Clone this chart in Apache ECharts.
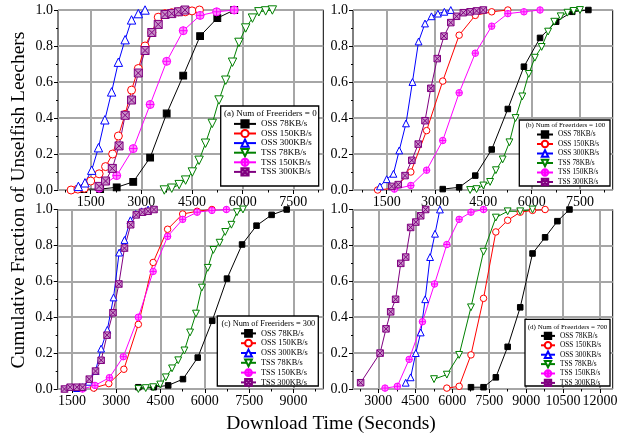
<!DOCTYPE html>
<html><head><meta charset="utf-8">
<script src="https://cdn.jsdelivr.net/npm/echarts@6/dist/echarts.min.js"></script>
<style>html,body{margin:0;padding:0;background:#fff}#c{width:628px;height:436px}</style>
</head><body><div id="c"></div>
<script>
// ---------- data ----------
const seriesNames = ['OSS 78KB/s','OSS 150KB/s','OSS 300KB/s','TSS 78KB/s','TSS 150KB/s','TSS 300KB/s'];
const panelTitles = ['(a) Num of Freeriders = 0','(b) Num of Freeriders = 100','(c) Num of Freeriders = 300','(d) Num of Freeriders = 700'];
const xTitle = 'Download Time (Seconds)';
const yTitle = 'Cumulative Fraction of Unselfish Leechers';

// panel (a)
const a_oss78  = [[1280,0.005],[1780,0.005],[2270,0.015],[2760,0.045],[3260,0.18],[3750,0.425],[4240,0.635],[4740,0.855],[5250,0.955],[5750,1.0]];
const a_oss150 = [[920,0],[1120,0.005],[1310,0.01],[1500,0.05],[1750,0.09],[1940,0.13],[2150,0.2],[2320,0.3],[2520,0.42],[2710,0.555],[2910,0.675],[3110,0.8],[3310,0.875],[3500,0.96],[3700,0.98],[3900,0.985],[4100,0.99],[4300,0.99],[4500,0.995],[4720,1.0]];
const a_oss300 = [[1135,0.02],[1330,0.04],[1530,0.11],[1730,0.235],[1920,0.39],[2120,0.545],[2320,0.71],[2520,0.835],[2710,0.945],[2910,0.98],[3110,1.0]];
const a_tss78  = [[3680,0],[3900,0.01],[4120,0.03],[4310,0.055],[4510,0.1],[4710,0.165],[4900,0.26],[5100,0.37],[5300,0.5],[5500,0.61],[5700,0.71],[5890,0.82],[6090,0.9],[6290,0.955],[6480,0.99],[6680,0.995],[6880,1.0]];
const a_tss150 = [[1750,0.01],[2270,0.08],[2760,0.23],[3260,0.475],[3750,0.715],[4240,0.885],[4740,0.97],[5230,0.99],[5750,1.0]];
const a_tss300 = [[1750,0.02],[1940,0.05],[2140,0.12],[2340,0.245],[2520,0.415],[2710,0.5],[2910,0.65],[3110,0.775],[3310,0.875],[3500,0.92],[3700,0.975],[3900,0.98],[4100,0.99],[4290,1.0]];

// panel (b)
const b_oss78  = [[3240,0.005],[3750,0.015],[4250,0.08],[4760,0.225],[5260,0.45],[5760,0.685],[6260,0.845],[6760,0.935],[7260,0.99],[7760,1.0]];
const b_oss150 = [[1220,0],[1740,0.01],[2250,0.1],[2740,0.33],[3240,0.605],[3750,0.86],[4250,0.97],[4760,0.99],[5260,1.0]];
const b_oss300 = [[1290,0.02],[1500,0.06],[1710,0.09],[1890,0.22],[2100,0.37],[2300,0.6],[2490,0.825],[2690,0.925],[2890,0.965],[3090,0.98],[3290,0.99],[3490,1.0]];
const b_tss78  = [[4090,0],[4290,0.005],[4500,0.025],[4710,0.045],[4890,0.11],[5100,0.17],[5310,0.265],[5500,0.4],[5710,0.52],[5910,0.645],[6100,0.735],[6310,0.795],[6510,0.88],[6700,0.935],[6900,0.965],[7110,0.985],[7300,0.995],[7500,1.0]];
const b_tss150 = [[1740,0.005],[2250,0.025],[2740,0.11],[3240,0.275],[3750,0.54],[4250,0.76],[4760,0.91],[5260,0.98],[5760,0.99],[6260,1.0]];
const b_tss300 = [[1660,0.02],[1860,0.03],[2070,0.08],[2280,0.165],[2480,0.255],[2690,0.385],[2870,0.565],[3070,0.73],[3280,0.855],[3490,0.93],[3670,0.965],[3880,0.985],[4090,0.99],[4290,0.995],[4500,1.0]];

// panel (c)
const c_oss78  = [[3750,0.01],[4270,0.01],[4760,0.02],[5260,0.055],[5760,0.175],[6250,0.38],[6750,0.615],[7260,0.805],[7750,0.91],[8260,0.97],[8770,1.0]];
const c_oss150 = [[2240,0.005],[2750,0.03],[3260,0.11],[3750,0.36],[4250,0.705],[4740,0.89],[5250,0.975],[5740,0.99],[6240,1.0]];
const c_oss300 = [[1670,0.005],[1860,0.01],[2070,0.04],[2300,0.1],[2490,0.225],[2700,0.33],[2910,0.51],[3100,0.76],[3280,0.83],[3480,0.94],[3660,0.975],[3860,0.99],[4080,1.0]];
const c_tss78  = [[3750,0],[4000,0.005],[4250,0.01],[4490,0.025],[4680,0.065],[4890,0.115],[5100,0.16],[5310,0.215],[5500,0.315],[5700,0.42],[5900,0.565],[6100,0.675],[6290,0.775],[6500,0.815],[6690,0.875],[6900,0.915],[7090,0.985],[7290,1.0]];
const c_tss150 = [[1860,0],[2280,0.02],[2770,0.063],[3240,0.18],[3750,0.4],[4250,0.655],[4740,0.85],[5250,0.945],[5740,0.985],[6240,0.995],[6730,1.0]];
const c_tss300 = [[1250,0],[1440,0.01],[1670,0.01],[1860,0.01],[2090,0.055],[2300,0.1],[2490,0.16],[2690,0.3],[2890,0.425],[3090,0.585],[3280,0.785],[3490,0.915],[3680,0.97],[3890,0.985],[4080,0.99],[4280,1.0]];

// panel (d)
const d_oss78  = [[6760,0.01],[7270,0.01],[7770,0.065],[8250,0.235],[8760,0.455],[9260,0.755],[9770,0.845],[10270,0.935],[10760,1.0]];
const d_oss150 = [[5780,0.005],[6280,0.015],[6760,0.19],[7270,0.505],[7770,0.875],[8250,0.94],[8760,0.985],[9260,0.995],[9770,1.0]];
const d_oss300 = [[4110,0.035],[4310,0.065],[4520,0.2],[4720,0.315],[4900,0.5],[5100,0.735],[5300,0.865],[5500,1.0]];
const d_tss78  = [[5260,0.055],[5780,0.08],[6280,0.19],[6760,0.455],[7270,0.765],[7770,0.955],[8250,0.99],[8760,0.99],[9260,1.0]];
const d_tss150 = [[3270,0.005],[3770,0.015],[4250,0.165],[4790,0.375],[5280,0.585],[5780,0.805],[6280,0.945],[6760,0.985],[7270,1.0]];
const d_tss300 = [[2280,0.035],[3070,0.2],[3310,0.335],[3500,0.43],[3700,0.5],[3910,0.7],[4110,0.735],[4310,0.9],[4520,0.93],[4720,0.965],[4920,1.0]];

// axis ticks / ranges
const xTicksAB = [1500,3000,4500,6000,7500];
const xTicksC  = [1500,3000,4500,6000,7500,9000];
const xTicksD  = [3000,4500,6000,7500,9000,10500,12000];
const xMinorAB = [750,2250,3750,5250,6750,8250];
const xMinorC  = [2250,3750,5250,6750,8250,9750];
const xMinorD  = [2250,3750,5250,6750,8250,9750,11250];
const xMins = [532, 455, 1020, 1970];
const xMaxs = [8388, 8515, 10010, 12515];

// ---------- layout / style ----------
const panelData = [
  [a_oss78,a_oss150,a_oss300,a_tss78,a_tss150,a_tss300],
  [b_oss78,b_oss150,b_oss300,b_tss78,b_tss150,b_tss300],
  [c_oss78,c_oss150,c_oss300,c_tss78,c_tss150,c_tss300],
  [d_oss78,d_oss150,d_oss300,d_tss78,d_tss150,d_tss300]
];
const panelTicks = [xTicksAB, xTicksAB, xTicksC, xTicksD];
const panelMinor = [xMinorAB, xMinorAB, xMinorC, xMinorD];
const grids = [
  {left:58,  top:10,    width:265.3, height:180},
  {left:353, top:10,    width:259.7, height:180},
  {left:57.7,top:209.5, width:265.6, height:179.5},
  {left:353, top:209.5, width:259.7, height:179.5}
];
const symSizes = [8, 6.5, 6.5, 6.5];
const FONT = '"Liberation Serif", "Times New Roman", serif';
const sty = [
  {symbol:'rect', fill:'#000', stroke:'#000', scale:0.85},
  {symbol:'circle', fill:'#fff', stroke:'#ff0000', scale:1},
  {symbol:'path://M5,0 L10,9 L0,9 Z', fill:'#fff', stroke:'#0000ff', scale:1.05},
  {symbol:'path://M0,0 L10,0 L5,9 Z', fill:'#fff', stroke:'#008000', scale:1.05},
  {symbol:'path://M0,5 A5,5 0 1,1 10,5 A5,5 0 1,1 0,5 Z M0,5 L10,5 M5,0 L5,10', fill:'#ff8cff', stroke:'#ff00ff', scale:1},
  {symbol:'path://M0,0 L10,0 L10,10 L0,10 Z M0,0 L10,10 M10,0 L0,10', fill:'#c890c8', stroke:'#800080', scale:1}
];
const legendBoxes = [
  {x:220.7, y:106, w:98,   h:80,   tx:270.3, ty:113.3, fs:9,   tfs:9,   left:233, top:119.3, iw:22, ih:9,   gap:0.4},
  {x:519.3, y:120, w:90.7, h:66,   tx:565.5, ty:125,   fs:7.3, tfs:7,   left:536, top:130.3, iw:16, ih:8,   gap:1.1},
  {x:217.3, y:316, w:101,  h:70,   tx:268.3, ty:324,   fs:8.3, tfs:8.3, left:240, top:329,   iw:15, ih:8.5, gap:1},
  {x:525,   y:319.3,w:85,  h:66.7, tx:567.5, ty:326.7, fs:7.3, tfs:7,   left:540, top:331.7, iw:14, ih:8,   gap:1}
];

const xAxis = [], yAxis = [], series = [], legend = [], graphic = [];
for (let p = 0; p < 4; p++) {
  xAxis.push({
    type:'value', gridIndex:p, min:xMins[p], max:xMaxs[p],
    axisLine:{show:false},
    axisTick:{show:true, inside:false, length:4, customValues:panelTicks[p], lineStyle:{color:'#000', width:1}},
    axisLabel:{show:true, customValues:panelTicks[p], margin:5, color:'#000', fontFamily:FONT, fontSize:14,
      showMinLabel:true, showMaxLabel:true, hideOverlap:false, formatter:v=>String(v)},
    splitLine:{show:true, lineStyle:{color:'#a6a6a6', width:2}}
  });
  xAxis.push({
    type:'value', gridIndex:p, min:xMins[p], max:xMaxs[p], position:'bottom',
    axisLine:{show:false},
    axisTick:{show:true, length:2.5, customValues:panelMinor[p], lineStyle:{color:'#000', width:1}},
    axisLabel:{show:false}, splitLine:{show:false}
  });
  yAxis.push({
    type:'value', gridIndex:p, min:0, max:1, interval:0.2,
    axisLine:{show:false},
    axisTick:{show:true, length:4, lineStyle:{color:'#000'}},
    minorTick:{show:true, splitNumber:2, length:2, lineStyle:{color:'#000'}},
    axisLabel:{margin:5, color:'#000', fontFamily:FONT, fontSize:14, formatter:v=>v.toFixed(1)},
    splitLine:{show:true, lineStyle:{color:'#a6a6a6', width:2}}
  });
  for (let s = 0; s < 6; s++) {
    series.push({
      type:'line', name:seriesNames[s], xAxisIndex:2*p, yAxisIndex:p,
      data:panelData[p][s], symbol:sty[s].symbol, symbolSize:symSizes[p]*sty[s].scale,
      showSymbol:true, animation:false, z:3,
      lineStyle:{color:sty[s].stroke, width:1},
      itemStyle:{color:sty[s].fill, borderColor:sty[s].stroke, borderWidth:1}
    });
  }
  const L = legendBoxes[p];
  legend.push({
    data:seriesNames, orient:'vertical', left:L.left, top:L.top, padding:0,
    itemWidth:L.iw, itemHeight:L.ih, itemGap:L.gap, selectedMode:false, z:12,
    textStyle:{fontFamily:FONT, fontSize:L.fs, color:'#000'}
  });
  graphic.push({type:'rect', z:10, shape:{x:L.x, y:L.y, width:L.w, height:L.h},
    style:{fill:'#fff', stroke:'#000', lineWidth:1.3}});
  graphic.push({type:'text', z:12, x:L.tx, y:L.ty,
    style:{text:panelTitles[p], fill:'#000', font:L.tfs+'px '+FONT, textAlign:'center', textVerticalAlign:'middle'}});
}
graphic.push({type:'text', z:12, x:19, y:200, rotation:Math.PI/2,
  style:{text:yTitle, fill:'#000', font:'19.5px '+FONT, textAlign:'center', textVerticalAlign:'middle'}});
graphic.push({type:'text', z:12, x:331, y:424,
  style:{text:xTitle, fill:'#000', font:'19.5px '+FONT, textAlign:'center', textVerticalAlign:'middle'}});

const chart = echarts.init(document.getElementById('c'), null, {renderer:'canvas'});
chart.setOption({
  animation:false,
  backgroundColor:'#fff',
  grid:grids.map(g => Object.assign({show:true, borderColor:'#000', borderWidth:1, backgroundColor:'transparent', containLabel:false}, g)),
  xAxis, yAxis, series, legend, graphic
});
</script></body></html>
